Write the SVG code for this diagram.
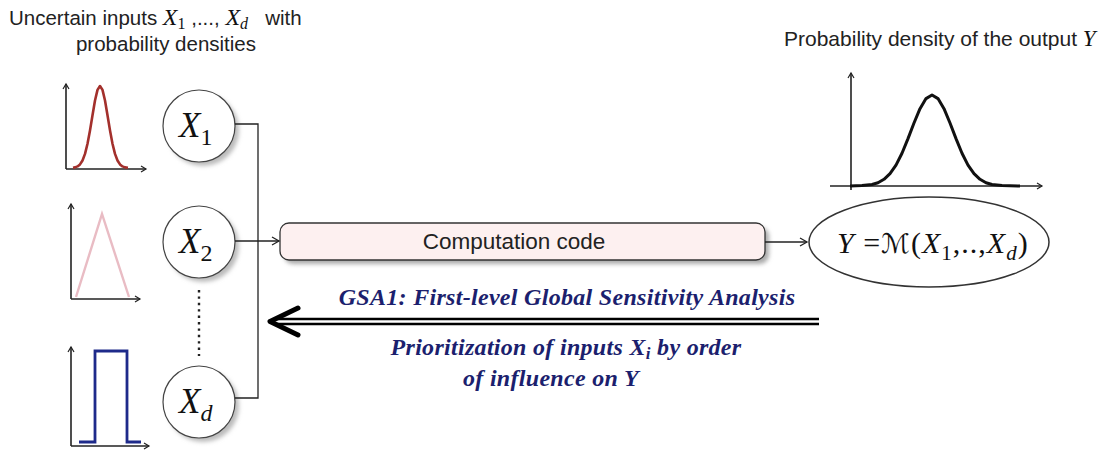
<svg xmlns="http://www.w3.org/2000/svg" width="1114" height="450" viewBox="0 0 1114 450">
<style>
.sans{font-family:"Liberation Sans",Arial,sans-serif;fill:#222}
.math{font-family:"Liberation Serif","Times New Roman",serif;font-style:italic;fill:#111}
.rm{font-style:normal}
.gsa{font-family:"Liberation Serif","Times New Roman",serif;font-style:italic;font-weight:bold;fill:#1c1f6e;letter-spacing:0.3px}
.axis{fill:none;stroke:#222;stroke-width:1.6;marker-end:url(#ax)}
.node{fill:#fff;stroke:#444;stroke-width:1.2}
.conn{fill:none;stroke:#222;stroke-width:1.3}
</style>
<defs>
<marker id="ax" markerWidth="8" markerHeight="8" refX="6" refY="4" orient="auto" markerUnits="userSpaceOnUse">
<path d="M1,1 L6,4 L1,7" fill="none" stroke="#222" stroke-width="1.2"/>
</marker>
<marker id="arr" markerWidth="12" markerHeight="12" refX="10" refY="6" orient="auto" markerUnits="userSpaceOnUse">
<path d="M3,2 L10,6 L3,10" fill="none" stroke="#222" stroke-width="1.3"/>
</marker>
<filter id="sh" x="-20%" y="-20%" width="150%" height="150%">
<feGaussianBlur stdDeviation="2"/>
</filter>
</defs>
<rect width="1114" height="450" fill="#fff"/>

<g id="title-left">
<text x="9" y="25" font-size="20.5" class="sans">Uncertain inputs <tspan class="math" font-size="24">X</tspan><tspan class="math rm" font-size="16" dy="4">1</tspan><tspan dy="-4"> ,..., </tspan><tspan class="math" font-size="24">X</tspan><tspan class="math" font-size="16" dy="4">d</tspan><tspan dy="-4">&#160;&#160;&#160;with</tspan></text>
<text x="166" y="51" font-size="20.5" class="sans" text-anchor="middle">probability densities</text>
</g>

<g id="plot-x1">
<path class="axis" d="M66,169 L66,84"/>
<path class="axis" d="M66,169 L146,169"/>
<polyline fill="none" stroke="#a3302c" stroke-width="2.6" stroke-linejoin="round" points="73,167.7 75,167.4 77.5,166.4 80,164.4 82.5,160.5 85,153.9 87.5,143.8 90,130.4 92.5,115.2 95,100.5 97.5,89.9 100,86 102.5,89.9 105,100.5 107.5,115.2 110,130.4 112.5,143.8 115,153.9 117.5,160.5 120,164.4 122.5,166.4 125,167.4 128,167.7"/>
</g>

<g id="plot-x2">
<path class="axis" d="M71,299 L71,204"/>
<path class="axis" d="M71,299 L140,299"/>
<polyline fill="none" stroke="#e9bcc4" stroke-width="2.4" points="76,297 102,214 129,297"/>
</g>

<g id="plot-xd">
<path class="axis" d="M71,446 L71,347"/>
<path class="axis" d="M71,446 L149,446"/>
<polyline fill="none" stroke="#1e2a8a" stroke-width="2.8" points="79,442 95,442 95,351 127,351 127,442 141,442"/>
</g>

<g id="node-x1">
<circle cx="203" cy="130" r="36" fill="#bbb" filter="url(#sh)"/>
<circle class="node" cx="199" cy="126" r="36"/>
<text x="179" y="137" font-size="35" class="math">X<tspan class="rm" font-size="24" dy="8">1</tspan></text>
</g>

<g id="node-x2">
<circle cx="203" cy="246" r="36" fill="#bbb" filter="url(#sh)"/>
<circle class="node" cx="199" cy="242" r="36"/>
<text x="179" y="253" font-size="35" class="math">X<tspan class="rm" font-size="24" dy="8">2</tspan></text>
</g>

<g id="node-xd">
<circle cx="203" cy="406" r="36" fill="#bbb" filter="url(#sh)"/>
<circle class="node" cx="199" cy="402" r="36"/>
<text x="179" y="413" font-size="35" class="math">X<tspan font-size="24" dy="8">d</tspan></text>
</g>

<g id="dots">
<line x1="199" y1="290" x2="199" y2="356" stroke="#222" stroke-width="2.4" stroke-dasharray="2.4,4"/>
</g>

<g id="node-code">
<rect x="284" y="227" width="485" height="37" rx="9" fill="#aaa" filter="url(#sh)"/>
<rect x="280" y="223" width="485" height="37" rx="9" fill="#fdf0f0" stroke="#333" stroke-width="1.3"/>
<text x="514" y="249" font-size="22.5" class="sans" text-anchor="middle" fill="#111">Computation code</text>
</g>

<g id="node-output">
<ellipse cx="929" cy="242" rx="120" ry="45" fill="#fff" stroke="#333" stroke-width="1.5"/>
<text x="837" y="253" font-size="30" class="math" letter-spacing="1">Y <tspan class="rm">=</tspan><tspan font-family="'DejaVu Serif','DejaVu Sans',serif" font-style="normal" font-size="27">ℳ</tspan><tspan class="rm">(</tspan>X<tspan class="rm" font-size="21" dy="7">1</tspan><tspan class="rm" dy="-7">,..,</tspan>X<tspan font-size="21" dy="7">d</tspan><tspan class="rm" dy="-7">)</tspan></text>
</g>

<g id="title-right">
<text x="784" y="46" font-size="21" class="sans">Probability density of the output <tspan class="math" font-size="23">Y</tspan></text>
</g>

<g id="plot-y">
<path class="axis" d="M851,190 L851,73"/>
<path class="axis" d="M830,186 L1042,186"/>
<polyline fill="none" stroke="#111" stroke-width="3" stroke-linejoin="round" points="850,186 862,185.6 872,184.5 878,182.7 884,179.3 890,173.7 896,165.1 902,153.2 908,138.6 914,123.0 920,108.7 926,98.6 932,95 938,98.6 944,108.7 950,123.0 956,138.6 962,153.2 968,165.1 974,173.7 980,179.3 986,182.7 992,184.5 1002,185.6 1020,186"/>
</g>

<g id="connectors">
<polyline class="conn" points="235,124 258,124 258,398 235,398"/>
<line class="conn" x1="235" y1="241" x2="279" y2="241" marker-end="url(#arr)"/>
<line class="conn" x1="765" y1="242" x2="807" y2="242" marker-end="url(#arr)"/>
<line x1="276" y1="319" x2="819" y2="319" stroke="#000" stroke-width="2.4"/>
<line x1="276" y1="324" x2="819" y2="324" stroke="#000" stroke-width="2.4"/>
<path d="M298,308 L270,321.5 L298,335" fill="none" stroke="#000" stroke-width="5" stroke-linecap="round" stroke-linejoin="round"/>
</g>

<g id="gsa-labels">
<text x="567" y="305" font-size="24" class="gsa" text-anchor="middle">GSA1: First-level Global Sensitivity Analysis</text>
<text x="566" y="355" font-size="24" class="gsa" text-anchor="middle">Prioritization of inputs X<tspan font-size="17" dy="4">i</tspan><tspan dy="-4"> by order</tspan></text>
<text x="551" y="386" font-size="24" class="gsa" text-anchor="middle">of influence on Y</text>
</g>
</svg>
